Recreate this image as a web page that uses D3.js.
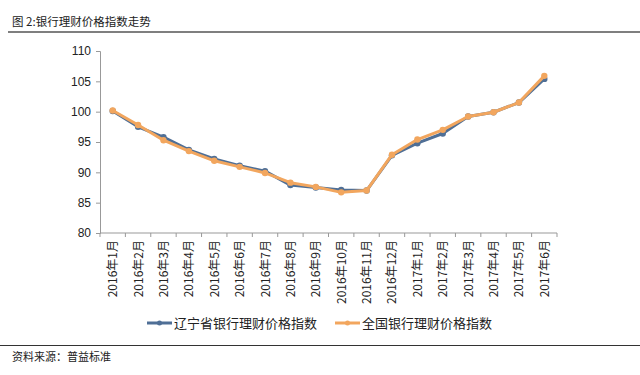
<!DOCTYPE html>
<html>
<head>
<meta charset="utf-8">
<script src="https://cdn.jsdelivr.net/npm/d3@7"></script>
<style>
  body { margin: 0; background: #fff; }
  text { font-family: "Noto Sans CJK SC", "Noto Sans", sans-serif; fill: #222; }
</style>
</head>
<body>
<svg id="chart" width="640" height="375"></svg>
<script>
// months along the x axis
const months = ["2016年1月", "2016年2月", "2016年3月", "2016年4月", "2016年5月", "2016年6月",
  "2016年7月", "2016年8月", "2016年9月", "2016年10月", "2016年11月", "2016年12月",
  "2017年1月", "2017年2月", "2017年3月", "2017年4月", "2017年5月", "2017年6月"];

// 辽宁省 index
const liaoning = [100.1, 97.5, 95.8, 93.7, 92.2, 91.1, 90.2, 87.9, 87.5, 87.1, 87.0, 92.8,
  94.8, 96.4, 99.2, 99.9, 101.5, 105.4];

// 全国 index
const national = [100.2, 97.8, 95.3, 93.5, 91.9, 90.9, 89.9, 88.3, 87.6, 86.7, 87.0, 92.9,
  95.4, 97.0, 99.2, 99.9, 101.5, 105.9];

const yTicks = [80, 85, 90, 95, 100, 105, 110];

const seriesNames = ["辽宁省银行理财价格指数", "全国银行理财价格指数"];
const seriesColors = ["#4f6f96", "#f2a65e"];

const svg = d3.select("#chart");

// title and rules
svg.append("text").attr("x", 12).attr("y", 26)
  .style("font-size", "11.5px").attr("fill", "#333").text("图 2:银行理财价格指数走势");
svg.append("line").attr("x1", 8).attr("x2", 640).attr("y1", 32).attr("y2", 32)
  .attr("stroke", "#555").attr("stroke-width", 1.5);
svg.append("line").attr("x1", 0).attr("x2", 640).attr("y1", 345.5).attr("y2", 345.5)
  .attr("stroke", "#333").attr("stroke-width", 1);
svg.append("text").attr("x", 12).attr("y", 361)
  .style("font-size", "11px").attr("fill", "#333").text("资料来源：普益标准");

const x = d3.scaleBand().domain(months).range([100, 557]);
const y = d3.scaleLinear().domain([80, 110]).range([233, 51]);

// y axis
const yAxis = svg.append("g").attr("transform", "translate(100,0)")
  .call(d3.axisLeft(y).tickValues(yTicks).tickSize(4).tickPadding(5));
yAxis.select(".domain").attr("stroke", "#999");
yAxis.selectAll(".tick line").attr("stroke", "#999");
yAxis.selectAll("text").style("font-size", "12px").attr("fill", "#222")
  .style("font-family", "Liberation Sans, Arial, sans-serif");

// x axis, ticks at category boundaries
const xAxis = svg.append("g").attr("transform", "translate(0,233)");
xAxis.append("line").attr("x1", 100).attr("x2", 557).attr("stroke", "#999");
xAxis.selectAll("line.tk")
  .data(months.concat(["end"]))
  .join("line")
  .attr("class", "tk")
  .attr("x1", (d, i) => 100 + i * x.step())
  .attr("x2", (d, i) => 100 + i * x.step())
  .attr("y1", 0).attr("y2", 4)
  .attr("stroke", "#999");
xAxis.selectAll("text")
  .data(months)
  .join("text")
  .attr("transform", d => `translate(${x(d) + x.bandwidth() / 2 + 4.5},7) rotate(-90)`)
  .attr("text-anchor", "end")
  .style("font-size", "12px")
  .text(d => d);

const line = d3.line()
  .x((d, i) => x(months[i]) + x.bandwidth() / 2)
  .y(d => y(d));

[liaoning, national].forEach((vals, k) => {
  const g = svg.append("g");
  g.append("path").datum(vals)
    .attr("d", line)
    .attr("fill", "none")
    .attr("stroke", seriesColors[k])
    .attr("stroke-width", 3)
    .attr("stroke-linejoin", "round");
  g.selectAll("circle").data(vals).join("circle")
    .attr("cx", (d, i) => x(months[i]) + x.bandwidth() / 2)
    .attr("cy", d => y(d))
    .attr("r", 3.2)
    .attr("fill", seriesColors[k]);
});

// legend
const legendX = [147, 335];
seriesNames.forEach((name, k) => {
  const lg = svg.append("g").attr("transform", `translate(${legendX[k]},323)`);
  lg.append("line").attr("x1", 0).attr("x2", 25)
    .attr("stroke", seriesColors[k]).attr("stroke-width", 3);
  lg.append("circle").attr("cx", 12.5).attr("r", 2.5).attr("fill", seriesColors[k]);
  lg.append("text").attr("x", 27).attr("y", 5)
    .style("font-size", "13px").attr("fill", "#333").text(name);
});
</script>
</body>
</html>
